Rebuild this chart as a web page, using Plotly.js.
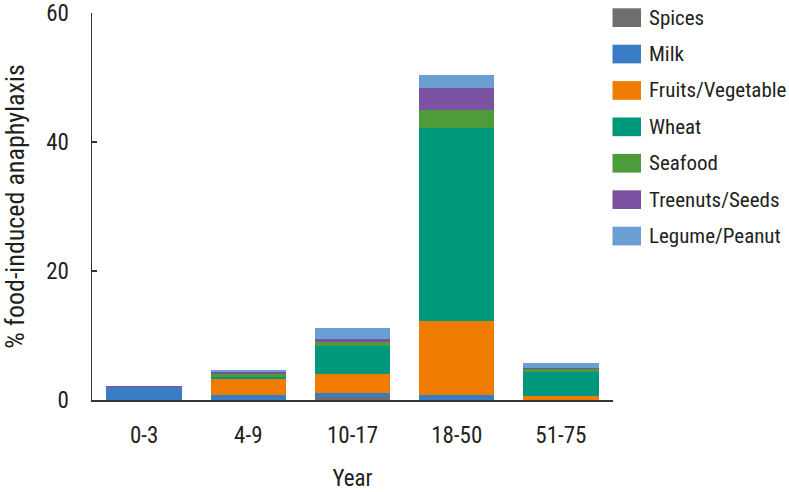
<!DOCTYPE html>
<html>
<head>
<meta charset="utf-8">
<script src="https://cdn.plot.ly/plotly-3.0.1.min.js"></script>
<style>html,body{margin:0;padding:0;background:#fff;}#chart{width:789px;height:492px;}</style>
</head>
<body>
<div id="chart"></div>
<script>
var categories = ["0-3", "4-9", "10-17", "18-50", "51-75"];
var seriesNames = ["Spices", "Milk", "Fruits/Vegetable", "Wheat", "Seafood", "Treenuts/Seeds", "Legume/Peanut"];
var spices    = [0,   0,   0.4, 0,    0];
var milk      = [2.0, 0.7, 0.7, 0.8,  0];
var fruits    = [0,   2.6, 3.0, 11.5, 0.6];
var wheat     = [0,   0.3, 4.2, 29.9, 3.8];
var seafood   = [0,   0.4, 0.7, 2.7,  0.35];
var treenuts  = [0.2, 0.3, 0.5, 3.4,  0.25];
var legume    = [0,   0.3, 1.6, 2.1,  0.7];
var yTicks = [0, 20, 40, 60];
var colors = ["#6d6e70", "#3b7dc4", "#ef7c00", "#00987a", "#4e9b3b", "#7b52a1", "#6b9fd4"];

var seriesValues = [spices, milk, fruits, wheat, seafood, treenuts, legume];
var FONT = "'Roboto Condensed', 'Liberation Sans Narrow', 'Liberation Sans', Arial, sans-serif";
var TXT = "#231f20";

var traces = seriesValues.map(function (vals, i) {
  return {
    type: "bar",
    name: seriesNames[i],
    x: categories,
    y: vals,
    marker: {color: colors[i], line: {width: 0}},
    showlegend: false,
    hoverinfo: "x+y+name"
  };
});

// custom legend (swatches + labels) in paper coordinates
var L = 92, W = 521, T = 13, H = 387;
function px2x(px) { return (px - L) / W; }
function py2y(py) { return (T + H - py) / H; }
var shapes = [], annotations = [];
seriesNames.forEach(function (name, i) {
  var top = 8.3 + i * 36.4;
  shapes.push({
    type: "rect", xref: "paper", yref: "paper",
    x0: px2x(612.5), x1: px2x(641), y0: py2y(top), y1: py2y(top + 18.7),
    fillcolor: colors[i], line: {width: 0}
  });
  annotations.push({
    xref: "paper", yref: "paper", x: px2x(647), y: py2y(top + 9.3),
    xanchor: "left", yanchor: "middle", showarrow: false,
    text: name, font: {family: FONT, size: 21, color: TXT}
  });
});

var layout = {
  width: 789, height: 492,
  margin: {l: L, r: 789 - L - W, t: T, b: 492 - T - H, pad: 0},
  paper_bgcolor: "#fff", plot_bgcolor: "#fff",
  barmode: "stack",
  bargap: 0.276,
  showlegend: false,
  font: {family: FONT, color: TXT},
  xaxis: {
    type: "category",
    showline: true, linecolor: "#333", linewidth: 1.5,
    ticks: "", showgrid: false, zeroline: false,
    tickfont: {family: FONT, size: 23, color: TXT},
    ticklabelstandoff: 14,
    title: {text: "Year", font: {family: FONT, size: 23, color: TXT}, standoff: 28}
  },
  yaxis: {
    range: [0, 60],
    tickvals: yTicks, ticktext: yTicks.map(String),
    ticklabeloverflow: "allow",
    showline: true, linecolor: "#333", linewidth: 1.5,
    ticks: "inside", ticklen: 5, tickwidth: 1.2, tickcolor: "#333",
    showgrid: false, zeroline: false,
    tickfont: {family: FONT, size: 23, color: TXT},
    ticklabelstandoff: 17,
    title: {text: "% food-induced anaphylaxis", font: {family: FONT, size: 26, color: TXT}, standoff: 18}
  },
  shapes: shapes,
  annotations: annotations
};

Plotly.newPlot("chart", traces, layout, {displayModeBar: false, staticPlot: true});
</script>
</body>
</html>
